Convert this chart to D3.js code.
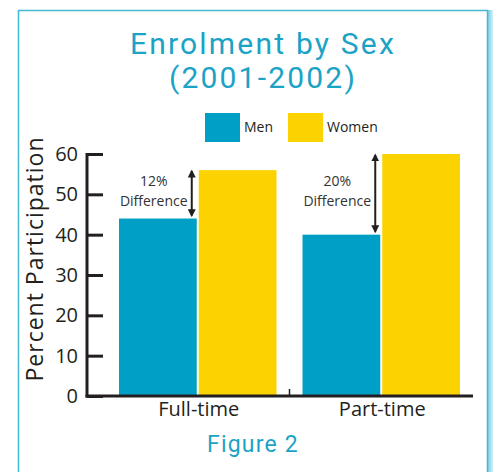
<!DOCTYPE html>
<html>
<head>
<meta charset="utf-8">
<script src="https://cdn.jsdelivr.net/npm/d3@7"></script>
<style>
  html, body { margin: 0; padding: 0; background: #fff; }
  svg { display: block; }
</style>
</head>
<body>
<div id="chart"></div>
<script>
// data
const categories = ['Full-time', 'Part-time'];
const seriesNames = ['Men', 'Women'];
const menValues = [44, 40];
const womenValues = [56, 60];
const diffLabels = ['12%', '20%'];
const yTicks = [0, 10, 20, 30, 40, 50, 60];

const width = 493, height = 472;
const blue = '#00a0c6', yellow = '#fcd200', ink = '#231f20', titleBlue = '#1ba3c6';

const svg = d3.select('#chart').append('svg')
  .attr('width', width)
  .attr('height', height);

// frame + right glow
const glow = svg.append('defs').append('linearGradient')
  .attr('id', 'glow').attr('x1', '0').attr('x2', '1');
glow.append('stop').attr('offset', '0').attr('stop-color', '#7fd0e4');
glow.append('stop').attr('offset', '1').attr('stop-color', '#d4eff6');
svg.append('rect')
  .attr('x', 488).attr('y', 10).attr('width', 5).attr('height', height)
  .attr('fill', 'url(#glow)');
svg.append('rect')
  .attr('x', 18.5).attr('y', 10.5).attr('width', 469).attr('height', height)
  .attr('fill', '#fff')
  .attr('stroke', '#45b7d1')
  .attr('stroke-width', 1.5);

// title
const title = svg.append('text')
  .attr('text-anchor', 'middle')
  .attr('font-family', 'Roboto, sans-serif')
  .attr('font-size', 30)
  .attr('letter-spacing', 2.2)
  .attr('fill', titleBlue);
title.append('tspan').attr('x', 263).attr('y', 54).text('Enrolment by Sex');
title.append('tspan').attr('x', 263).attr('y', 88).text('(2001-2002)');

// scales
const y = d3.scaleLinear().domain([0, 60]).range([396, 154]);
const x = d3.scaleBand().domain(categories).range([106, 473]);
const xInner = d3.scaleBand().domain(seriesNames)
  .range([13, x.bandwidth() - 13]).paddingInner(0.025);
const color = d3.scaleOrdinal().domain(seriesNames).range([blue, yellow]);

// legend
const legend = svg.append('g').attr('font-family', '"Open Sans", sans-serif');
const legendX = [205, 288];
seriesNames.forEach((s, i) => {
  legend.append('rect')
    .attr('x', legendX[i]).attr('y', 113)
    .attr('width', 35).attr('height', 29)
    .attr('fill', color(s));
  legend.append('text')
    .attr('x', legendX[i] + 39).attr('y', 132)
    .attr('font-size', 14)
    .attr('fill', ink)
    .text(s);
});

// bars
const rows = categories.map((c, i) => ({ cat: c, Men: menValues[i], Women: womenValues[i] }));
const groups = svg.append('g').selectAll('g')
  .data(rows)
  .join('g')
  .attr('transform', d => `translate(${x(d.cat)},0)`);
groups.selectAll('rect')
  .data(d => seriesNames.map(s => ({ key: s, value: d[s] })))
  .join('rect')
  .attr('x', d => xInner(d.key))
  .attr('width', xInner.bandwidth())
  .attr('y', d => y(d.value))
  .attr('height', d => y(0) - y(d.value))
  .attr('fill', d => color(d.key));

// y axis
const yAxis = svg.append('g')
  .attr('transform', 'translate(87,0)')
  .call(d3.axisRight(y).tickValues(yTicks).tickSize(16).tickFormat(''));
yAxis.select('.domain').remove();
yAxis.selectAll('.tick line').attr('stroke', ink).attr('stroke-width', 3);
svg.append('line')
  .attr('x1', 87).attr('x2', 87).attr('y1', 153).attr('y2', 397.5)
  .attr('stroke', ink).attr('stroke-width', 3);
svg.append('g').selectAll('text')
  .data(yTicks)
  .join('text')
  .attr('x', 78).attr('y', d => y(d) + 7)
  .attr('text-anchor', 'end')
  .attr('font-family', '"Open Sans", sans-serif')
  .attr('font-size', 20)
  .attr('fill', ink)
  .text(d => d);

// x axis
svg.append('line')
  .attr('x1', 85.5).attr('x2', 473).attr('y1', 396).attr('y2', 396)
  .attr('stroke', ink).attr('stroke-width', 3);
svg.append('line')
  .attr('x1', x(categories[1])).attr('x2', x(categories[1]))
  .attr('y1', 396).attr('y2', 389)
  .attr('stroke', ink).attr('stroke-width', 1.5);
svg.append('g').selectAll('text')
  .data(categories)
  .join('text')
  .attr('x', d => x(d) + x.bandwidth() / 2 + 1)
  .attr('y', 416)
  .attr('text-anchor', 'middle')
  .attr('font-family', '"Open Sans", sans-serif')
  .attr('font-size', 20)
  .attr('fill', ink)
  .text(d => d);

// y title
svg.append('text')
  .attr('transform', 'translate(43,259) rotate(-90)')
  .attr('text-anchor', 'middle')
  .attr('font-family', '"Open Sans", sans-serif')
  .attr('font-size', 23)
  .attr('letter-spacing', 1)
  .attr('fill', ink)
  .text('Percent Participation');

// difference arrows
svg.append('defs').append('marker')
  .attr('id', 'head')
  .attr('viewBox', '0 0 10 10')
  .attr('refX', 8).attr('refY', 5)
  .attr('markerWidth', 4).attr('markerHeight', 4)
  .attr('orient', 'auto-start-reverse')
  .append('path')
  .attr('d', 'M0,0 L10,5 L0,10 Z')
  .attr('fill', ink);

const ann = svg.append('g');
rows.forEach((d, i) => {
  const ax = x(d.cat) + xInner('Men') + xInner.bandwidth() - 5;
  ann.append('line')
    .attr('x1', ax).attr('x2', ax)
    .attr('y1', y(d.Women) + 1).attr('y2', y(d.Men) - 3)
    .attr('stroke', ink).attr('stroke-width', 2)
    .attr('marker-start', 'url(#head)')
    .attr('marker-end', 'url(#head)');
  const t = ann.append('text')
    .attr('text-anchor', 'middle')
    .attr('font-family', '"Open Sans", sans-serif')
    .attr('font-size', 14)
    .attr('fill', '#333');
  const cx = ax - 38;
  const top = (y(d.Women) + y(d.Men)) / 2 - 8;
  t.append('tspan').attr('x', cx).attr('y', top).text(diffLabels[i]);
  t.append('tspan').attr('x', cx).attr('y', top + 20).text('Difference');
});

// figure caption
svg.append('text')
  .attr('x', 253).attr('y', 452)
  .attr('text-anchor', 'middle')
  .attr('font-family', 'Roboto, sans-serif')
  .attr('font-size', 23)
  .attr('letter-spacing', 1.2)
  .attr('fill', titleBlue)
  .text('Figure 2');
</script>
</body>
</html>
